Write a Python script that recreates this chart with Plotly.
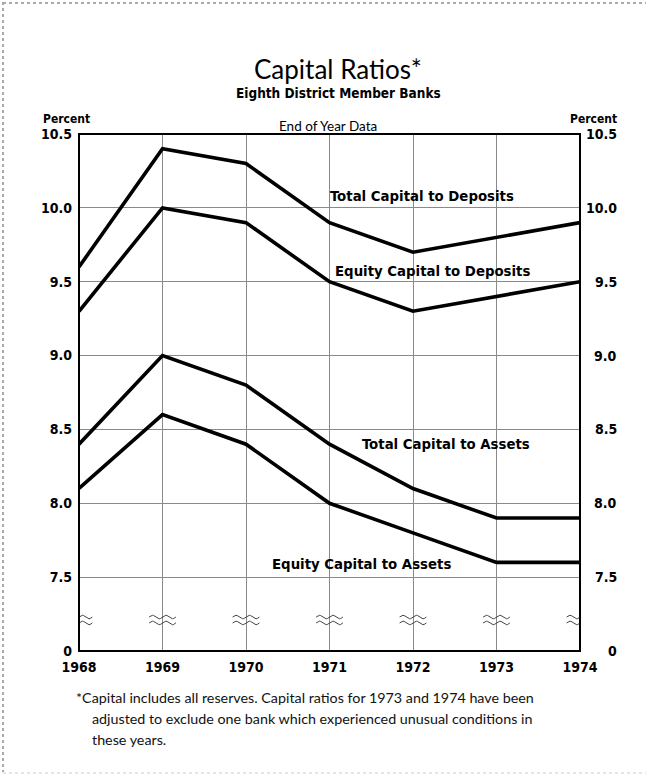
import numpy as np
import plotly.graph_objects as go

# ---------------- data ----------------
years = [1968, 1969, 1970, 1971, 1972, 1973, 1974]
total_cap_deposits = [9.6, 10.4, 10.3, 9.9, 9.7, 9.8, 9.9]
equity_cap_deposits = [9.3, 10.0, 9.9, 9.5, 9.3, 9.4, 9.5]
total_cap_assets = [8.4, 9.0, 8.8, 8.4, 8.1, 7.9, 7.9]
equity_cap_assets = [8.1, 8.6, 8.4, 8.0, 7.8, 7.6, 7.6]

# axis: the bottom of the scale (7.0) stands for a broken "0"
tick_vals = [7.0, 7.5, 8.0, 8.5, 9.0, 9.5, 10.0, 10.5]
tick_text = ["0", "7.5", "8.0", "8.5", "9.0", "9.5", "10.0", "10.5"]
year_labels = ["1968", "1969", "1970", "1971", "1972", "1973", "1974"]

series_labels = ["Total Capital to Deposits", "Equity Capital to Deposits",
                 "Total Capital to Assets", "Equity Capital to Assets"]

# ---------------- layout geometry ----------------
W, H = 649, 777
L, R, T, B = 79, 69, 134, 126
PW, PH = W - L - R, H - T - B

def xp(px):
    return (px - L) / PW

def yp(py):
    return (H - B - py) / PH

COND_D = "DejaVu Sans Condensed, Liberation Sans Narrow, sans-serif"
GEO = "Lato, Noto Sans, sans-serif"

fig = go.Figure()

# break marks on each year line
BREAK_Y = [7.23, 7.19]
t = np.linspace(0, 1, 25)
for yr in years:
    for by in BREAK_Y:
        fig.add_trace(go.Scatter(
            x=yr - 0.16 + 0.32 * t,
            y=by + 0.012 * np.sin(2 * np.pi * 2 * t),
            mode="lines", line=dict(color="#444", width=1),
            hoverinfo="skip", showlegend=False))

for vals in [total_cap_deposits, equity_cap_deposits, total_cap_assets, equity_cap_assets]:
    fig.add_trace(go.Scatter(x=years, y=vals, mode="lines",
                             line=dict(color="black", width=3.6),
                             showlegend=False))

annotations = []

# series labels (pixel positions)
label_pos = [(422, 195), (432, 270), (446, 443), (361, 563)]
for txt, (x, y) in zip(series_labels, label_pos):
    annotations.append(dict(text="<b>%s</b>" % txt, x=xp(x), y=yp(y), xref="paper", yref="paper",
                            showarrow=False, xanchor="center", yanchor="middle",
                            font=dict(family=COND_D, size=14.8, color="black")))

# right-side tick labels (right aligned)
for v, s in zip(tick_vals, tick_text):
    annotations.append(dict(text="<b>%s</b>" % s, x=xp(619), y=v, xref="paper", yref="y",
                            showarrow=False, xanchor="right", yanchor="middle",
                            font=dict(family=COND_D, size=14, color="black")))

# Percent labels
annotations.append(dict(text="<b>Percent</b>", x=xp(41), y=yp(119), xref="paper", yref="paper",
                        showarrow=False, xanchor="left", yanchor="middle",
                        font=dict(family=COND_D, size=12, color="black")))
annotations.append(dict(text="<b>Percent</b>", x=xp(619), y=yp(119), xref="paper", yref="paper",
                        showarrow=False, xanchor="right", yanchor="middle",
                        font=dict(family=COND_D, size=12, color="black")))

# titles
annotations.append(dict(text="Capital Ratios*", x=xp(338), y=yp(69), xref="paper", yref="paper",
                        showarrow=False, xanchor="center", yanchor="middle",
                        font=dict(family=GEO, size=26, color="black")))
annotations.append(dict(text="<b>Eighth District Member Banks</b>", x=xp(338), y=yp(93),
                        xref="paper", yref="paper", showarrow=False,
                        xanchor="center", yanchor="middle",
                        font=dict(family=COND_D, size=13.5, color="black")))
annotations.append(dict(text="End of Year Data", x=xp(328), y=yp(126), xref="paper", yref="paper",
                        showarrow=False, xanchor="center", yanchor="middle",
                        font=dict(family=GEO, size=13.5, color="black")))

# footnote
foot = ["*Capital includes all reserves. Capital ratios for 1973 and 1974 have been",
        "adjusted to exclude one bank which experienced unusual conditions in",
        "these years."]
foot_pos = [(74, 697), (90, 718), (90, 739)]
for txt, (x, y) in zip(foot, foot_pos):
    annotations.append(dict(text=txt, x=xp(x), y=yp(y), xref="paper", yref="paper",
                            showarrow=False, xanchor="left", yanchor="middle",
                            font=dict(family=GEO, size=14.3, color="#111")))

shapes = [
    # plot frame
    dict(type="rect", xref="paper", yref="paper", x0=0, x1=1, y0=0, y1=1,
         line=dict(color="black", width=2)),
    # page edges (scanned border)
    dict(type="line", xref="paper", yref="paper", x0=xp(3), x1=xp(3), y0=yp(2), y1=yp(772),
         line=dict(color="#aaa", width=2, dash="dot")),
    dict(type="line", xref="paper", yref="paper", x0=xp(3), x1=xp(646), y0=yp(3), y1=yp(3),
         line=dict(color="#aaa", width=2, dash="dot")),
    dict(type="line", xref="paper", yref="paper", x0=xp(3), x1=xp(646), y0=yp(773), y1=yp(773),
         line=dict(color="#ccc", width=1, dash="dot")),
]

fig.update_layout(
    width=W, height=H,
    margin=dict(l=L, r=R, t=T, b=B, pad=0),
    paper_bgcolor="white", plot_bgcolor="white",
    showlegend=False,
    annotations=annotations,
    shapes=shapes,
    xaxis=dict(range=[years[0], years[-1]], tickvals=years, ticktext=["<b>%s</b>" % s for s in year_labels],
               showgrid=True, gridcolor="#8a8a8a", gridwidth=1, zeroline=False,
               ticks="", ticklabelstandoff=6, showline=False,
               tickfont=dict(family=COND_D, size=14, color="black")),
    yaxis=dict(range=[7.0, 10.5], tickvals=tick_vals, ticktext=["<b>%s</b>" % s for s in tick_text],
               showgrid=True, gridcolor="#8a8a8a", gridwidth=1, zeroline=False,
               ticks="", ticklabelstandoff=6, showline=False,
               tickfont=dict(family=COND_D, size=14, color="black")),
)

fig.write_html("out.html", config={"displayModeBar": False},
               post_script="document.body.style.margin='0';document.body.style.overflow='hidden';")
